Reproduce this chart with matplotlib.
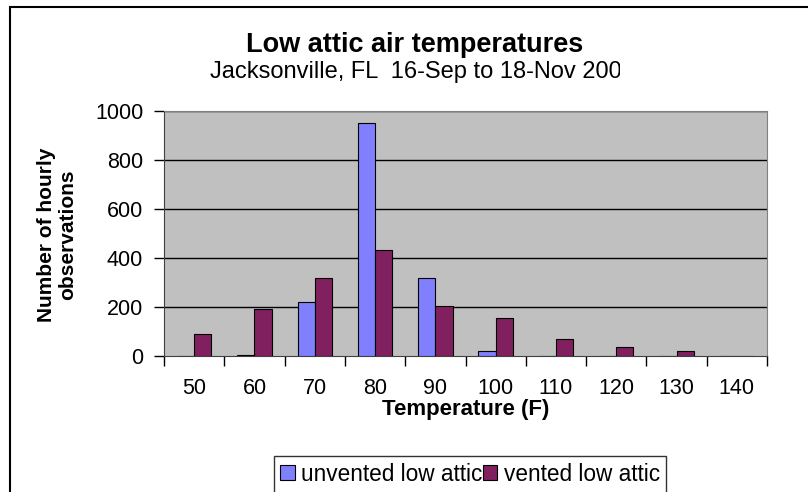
import matplotlib
matplotlib.use("Agg")
import matplotlib.pyplot as plt
from matplotlib.patches import Rectangle
import numpy as np

plt.rcParams["font.family"] = ["Liberation Sans", "DejaVu Sans"]

# data
temps = ["50", "60", "70", "80", "90", "100", "110", "120", "130", "140"]
unvented = [0, 5, 220, 950, 320, 20, 0, 0, 0, 0]
vented = [90, 190, 320, 433, 205, 155, 70, 35, 20, 0]
yticks = [0, 200, 400, 600, 800, 1000]

W, H = 808, 492
fig = plt.figure(figsize=(W / 100, H / 100), dpi=100)

# outer chart border
fig.patches.append(Rectangle((10 / W, -0.1), 1.0, 1.1 - 7 / H, transform=fig.transFigure,
                             fill=False, edgecolor="black", linewidth=1.5))

ax = fig.add_axes([164 / W, 1 - 356 / H, (767 - 164) / W, (356 - 111) / H])
ax.set_facecolor("#c0c0c0")

x = np.arange(len(temps))
w = 0.286
ax.bar(x - w / 2, unvented, w, color="#8080ff", edgecolor="black", linewidth=0.8,
       label="unvented low attic", zorder=3)
ax.bar(x + w / 2, vented, w, color="#80205f", edgecolor="black", linewidth=0.8,
       label="vented low attic", zorder=3)

ax.set_xlim(-0.5, len(temps) - 0.5)
ax.set_ylim(0, 1000)
ax.set_yticks(yticks)
ax.set_yticklabels([str(v) for v in yticks], fontsize=15.5)
ax.tick_params(axis="y", direction="out", length=7, width=1, pad=8)
for v in yticks[1:]:
    ax.axhline(v, color="black", linewidth=1, zorder=1)

ax.set_xticks(x)
ax.set_xticklabels(temps, fontsize=15.5)
ax.tick_params(axis="x", which="major", length=0, pad=16)
ax.set_xticks(np.arange(len(temps) + 1) - 0.5, minor=True)
ax.tick_params(axis="x", which="minor", direction="out", length=7, width=1)

for s in ["top", "right"]:
    ax.spines[s].set_color("#808080")
ax.spines["left"].set_color("#404040")
ax.spines["bottom"].set_color("#404040")

fig.text(415 / W, 1 - 45 / H, "Low attic air temperatures", ha="center", va="center",
         fontsize=19.5, fontweight="bold")
fig.text(210 / W, 1 - 72 / H, "Jacksonville, FL  16-Sep to 18-Nov 2006", ha="left",
         va="center", fontsize=17)
# the subtitle is cut off at the right in the original chart
fig.add_artist(Rectangle((620 / W, 1 - 88 / H), 40 / W, 30 / H, transform=fig.transFigure,
                         facecolor="white", edgecolor="none", zorder=10))

fig.text(466 / W, 1 - 409 / H, "Temperature (F)", ha="center", va="center",
         fontsize=16, fontweight="bold")
fig.text(57 / W, 1 - 235 / H, "Number of hourly\nobservations", ha="center", va="center",
         rotation=90, fontsize=15, fontweight="bold", linespacing=1.1)

leg = fig.legend(loc="upper center", bbox_to_anchor=(470 / W, 1 - 456 / H), ncol=2,
                 fontsize=16.3, frameon=True, fancybox=False, edgecolor="black",
                 handlelength=0.63, handleheight=0.63, handletextpad=0.27,
                 columnspacing=0.05, borderpad=0.3, borderaxespad=0)
leg.get_frame().set_linewidth(1)

fig.savefig("out.png", dpi=100)
